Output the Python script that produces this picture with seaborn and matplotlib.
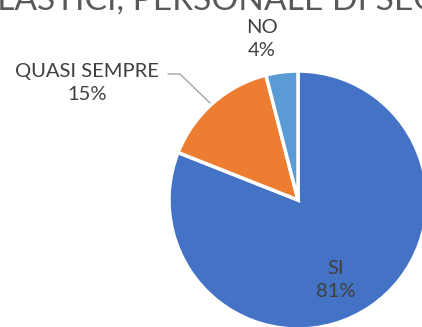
import matplotlib
matplotlib.use("Agg")
import matplotlib.pyplot as plt
import seaborn as sns

# Survey answers and their shares
categories = ["SI", "QUASI SEMPRE", "NO"]
shares = [81, 15, 4]
pct_labels = ["81%", "15%", "4%"]
title_prefix = "PLASTICI, "
title_rest = "PERSONALE DI SEGRETERIA"

colors = ["#4472C4", "#ED7D31", "#5B9BD5"]

sns.set_theme(style="white")
plt.rcParams["font.family"] = ["Lato", "DejaVu Sans"]

W, H, DPI = 422, 327, 100
fig = plt.figure(figsize=(W / DPI, H / DPI), dpi=DPI)
ax = fig.add_axes([0, 0, 1, 1])

ax.pie(shares, colors=colors, startangle=90, counterclock=False,
       radius=1.0, center=(0, 0),
       wedgeprops=dict(edgecolor="white", linewidth=2.5))

# pie centre and radius in pixels
cx, cy, r = 298, 200, 129
ax.set_xlim(-cx / r, (W - cx) / r)
ax.set_ylim(-(H - cy) / r, cy / r)
ax.set_aspect("equal", adjustable="datalim")
ax.axis("off")


def px(x, y):
    return (x / W, 1 - y / H)


txt_color = "#404040"
label_pos = {"SI": (336, 280), "QUASI SEMPRE": (87, 83), "NO": (262, 39)}
for cat, pct in zip(categories, pct_labels):
    x, y = label_pos[cat]
    fig.text(*px(x, y), f"{cat}\n{pct}", ha="center", va="center",
             fontsize=14.5, color=txt_color, linespacing=1.48)

# leader line for QUASI SEMPRE
fig.add_artist(plt.Line2D([168 / W, 180 / W, 210 / W],
                          [1 - 74 / H, 1 - 74 / H, 1 - 103 / H],
                          color="#A6A6A6", linewidth=1.0))

# title: large, running past the top edge of the figure
renderer = fig.canvas.get_renderer()
probe = fig.text(0, 0, "PERSONALE", fontsize=10)
w10 = probe.get_window_extent(renderer).width
probe.remove()
tsize = 10 * 188 / w10
probe = fig.text(0, 0, title_prefix, fontsize=tsize)
wpre = probe.get_window_extent(renderer).width
probe.remove()
fig.text((133 - wpre) / W, 1 - 10 / H, title_prefix + title_rest,
         ha="left", va="baseline", fontsize=tsize, color="#595959")

fig.savefig("out.png", dpi=DPI)
